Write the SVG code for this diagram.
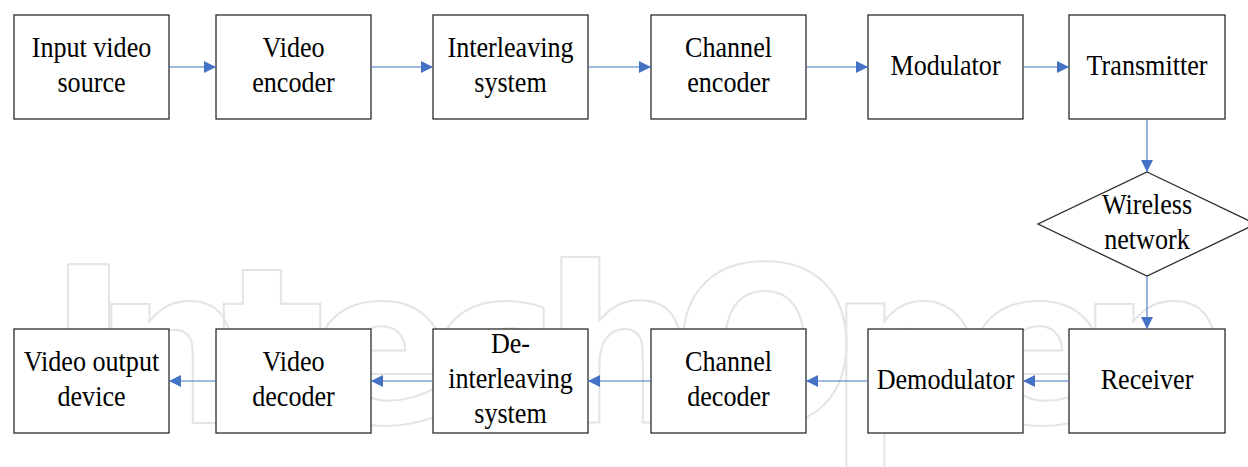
<svg xmlns="http://www.w3.org/2000/svg" width="1248" height="467" viewBox="0 0 1248 467">
  <style>
    .box { fill: #ffffff; stroke: #2b2b2b; stroke-width: 1.3; }
    .lbl { font-family: 'Liberation Serif', Tinos, 'DejaVu Serif', serif; font-size: 30px; fill: #000000; text-anchor: middle; }
    .link { fill: none; stroke: #4472c4; stroke-width: 1.1; marker-end: url(#arrow); }
    .mark { font-family: 'DejaVu Sans', sans-serif; font-size: 218px; font-weight: bold; fill: none; stroke: #e4e4e4; stroke-width: 2; }
  </style>
  <defs>
    <marker id="arrow" markerUnits="userSpaceOnUse" markerWidth="12" markerHeight="12" refX="12" refY="6" orient="auto">
      <path d="M0,0 L12,6 L0,12 z" fill="#4472c4"/>
    </marker>
  </defs>

  <rect width="1248" height="467" fill="#ffffff"/>

  <!-- faint background logotype -->
  <text class="mark" x="48 93 221 307 429 543 672 828 964 1077" y="423">IntechOpen</text>

  <!-- transmit chain -->
  <g id="input-video-source">
    <rect class="box" x="14" y="15" width="155" height="104"/>
    <g transform="translate(91.5 0) scale(0.87 1)">
      <text class="lbl" x="0" y="57">Input video</text>
      <text class="lbl" x="0" y="92">source</text>
    </g>
  </g>
  <g id="video-encoder">
    <rect class="box" x="216" y="15" width="155" height="104"/>
    <g transform="translate(293.5 0) scale(0.87 1)">
      <text class="lbl" x="0" y="57">Video</text>
      <text class="lbl" x="0" y="92">encoder</text>
    </g>
  </g>
  <g id="interleaving-system">
    <rect class="box" x="433" y="15" width="155" height="104"/>
    <g transform="translate(510.5 0) scale(0.87 1)">
      <text class="lbl" x="0" y="57">Interleaving</text>
      <text class="lbl" x="0" y="92">system</text>
    </g>
  </g>
  <g id="channel-encoder">
    <rect class="box" x="651" y="15" width="155" height="104"/>
    <g transform="translate(728.5 0) scale(0.87 1)">
      <text class="lbl" x="0" y="57">Channel</text>
      <text class="lbl" x="0" y="92">encoder</text>
    </g>
  </g>
  <g id="modulator">
    <rect class="box" x="868" y="15" width="155" height="104"/>
    <g transform="translate(945.5 0) scale(0.87 1)">
      <text class="lbl" x="0" y="75">Modulator</text>
    </g>
  </g>
  <g id="transmitter">
    <rect class="box" x="1069" y="15" width="156" height="104"/>
    <g transform="translate(1147 0) scale(0.87 1)">
      <text class="lbl" x="0" y="75">Transmitter</text>
    </g>
  </g>

  <!-- channel -->
  <g id="wireless-network">
    <polygon class="box" points="1147,172 1256,224 1147,276 1038,224"/>
    <g transform="translate(1147 0) scale(0.87 1)">
      <text class="lbl" x="0" y="214">Wireless</text>
      <text class="lbl" x="0" y="249">network</text>
    </g>
  </g>

  <!-- receive chain -->
  <g id="receiver">
    <rect class="box" x="1069" y="329" width="156" height="104"/>
    <g transform="translate(1147 0) scale(0.87 1)">
      <text class="lbl" x="0" y="389">Receiver</text>
    </g>
  </g>
  <g id="demodulator">
    <rect class="box" x="868" y="329" width="155" height="104"/>
    <g transform="translate(945.5 0) scale(0.87 1)">
      <text class="lbl" x="0" y="389">Demodulator</text>
    </g>
  </g>
  <g id="channel-decoder">
    <rect class="box" x="651" y="329" width="155" height="104"/>
    <g transform="translate(728.5 0) scale(0.87 1)">
      <text class="lbl" x="0" y="371">Channel</text>
      <text class="lbl" x="0" y="406">decoder</text>
    </g>
  </g>
  <g id="de-interleaving-system">
    <rect class="box" x="433" y="329" width="155" height="104"/>
    <g transform="translate(510.5 0) scale(0.87 1)">
      <text class="lbl" x="0" y="353">De-</text>
      <text class="lbl" x="0" y="388">interleaving</text>
      <text class="lbl" x="0" y="423">system</text>
    </g>
  </g>
  <g id="video-decoder">
    <rect class="box" x="216" y="329" width="155" height="104"/>
    <g transform="translate(293.5 0) scale(0.87 1)">
      <text class="lbl" x="0" y="371">Video</text>
      <text class="lbl" x="0" y="406">decoder</text>
    </g>
  </g>
  <g id="video-output-device">
    <rect class="box" x="14" y="329" width="155" height="104"/>
    <g transform="translate(91.5 0) scale(0.87 1)">
      <text class="lbl" x="0" y="371">Video output</text>
      <text class="lbl" x="0" y="406">device</text>
    </g>
  </g>

  <g id="connectors">
    <line class="link" x1="169" y1="67" x2="216" y2="67"/>
    <line class="link" x1="371" y1="67" x2="433" y2="67"/>
    <line class="link" x1="588" y1="67" x2="651" y2="67"/>
    <line class="link" x1="806" y1="67" x2="868" y2="67"/>
    <line class="link" x1="1023" y1="67" x2="1069" y2="67"/>
    <line class="link" x1="1147" y1="119" x2="1147" y2="172"/>
    <line class="link" x1="1147" y1="276" x2="1147" y2="329"/>
    <line class="link" x1="1069" y1="381" x2="1023" y2="381"/>
    <line class="link" x1="868" y1="381" x2="806" y2="381"/>
    <line class="link" x1="651" y1="381" x2="588" y2="381"/>
    <line class="link" x1="433" y1="381" x2="371" y2="381"/>
    <line class="link" x1="216" y1="381" x2="169" y2="381"/>
  </g>
</svg>
